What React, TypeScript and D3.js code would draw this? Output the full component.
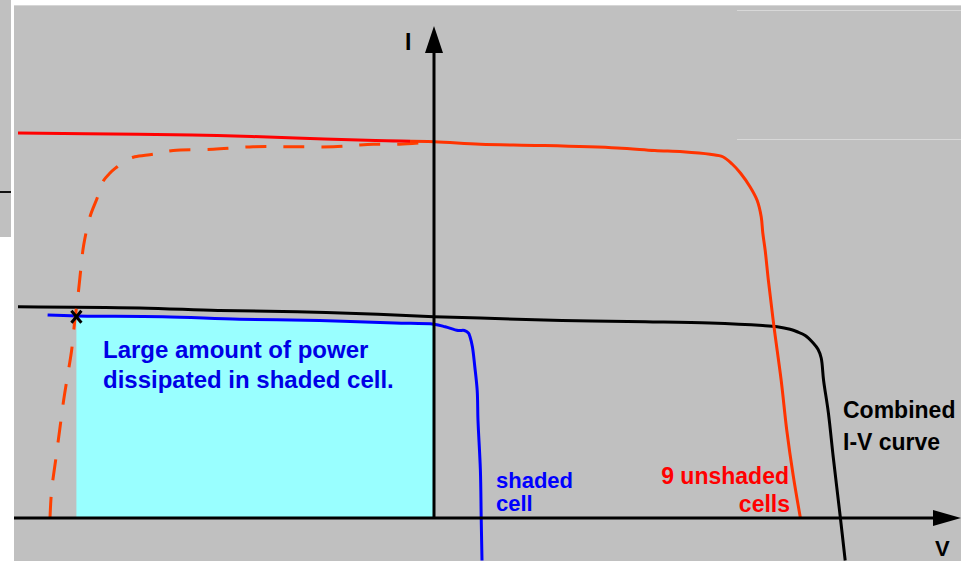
import * as React from 'react';
import * as d3 from 'd3';

// I-V curves of a string of 10 cells with one shaded (volts / amps)
const unshadedV = [-5.2, -3.7, -2.71, -1.73, -0.73, 0, 0.58, 1.33, 2.29, 2.76, 3.11, 3.45, 3.61, 3.73, 3.83, 3.95, 4.04, 4.09, 4.11, 4.14, 4.18, 4.25, 4.34, 4.41, 4.49, 4.58];
const unshadedI = [3.08, 3.07, 3.06, 3.04, 3.02, 3.01, 2.99, 2.98, 2.96, 2.94, 2.93, 2.91, 2.89, 2.83, 2.76, 2.65, 2.54, 2.41, 2.28, 2.14, 1.9, 1.53, 1.1, 0.7, 0.34, 0];

// unshaded curve mirrored (the voltage the shaded cell is forced to)
const mirroredV = [-4.8, -4.78, -4.73, -4.68, -4.63, -4.58, -4.53, -4.49, -4.45, -4.41, -4.38, -4.3, -4.21, -4.14, -4.05, -3.96, -3.86, -3.74, -3.51, -3.26, -2.76, -2.26, -1.76, -1.26, -1.01, -0.76, -0.43, 0];
const mirroredI = [0, 0.22, 0.46, 0.7, 0.94, 1.14, 1.34, 1.58, 1.78, 2.02, 2.18, 2.41, 2.56, 2.69, 2.76, 2.81, 2.86, 2.89, 2.91, 2.94, 2.95, 2.97, 2.97, 2.97, 2.98, 2.99, 2.99, 3.01];

const shadedV = [-4.83, -4.46, -3.39, -2.43, -1.43, -0.49, 0, 0.14, 0.3, 0.38, 0.43, 0.45, 0.48, 0.51, 0.54, 0.55, 0.58, 0.59, 0.6];
const shadedI = [1.624, 1.616, 1.61, 1.59, 1.58, 1.56, 1.55, 1.53, 1.5, 1.5, 1.48, 1.45, 1.37, 1.21, 1.02, 0.78, 0.38, 0, -0.34];

const combinedV = [-5.2, -3.68, -2.7, -1.71, -0.7, 0, 0.58, 1.6, 2.64, 3.45, 4.11, 4.29, 4.45, 4.54, 4.64, 4.74, 4.8, 4.84, 4.87, 4.93, 4.99, 5.08, 5.14];
const combinedI = [1.69, 1.68, 1.66, 1.65, 1.63, 1.61, 1.6, 1.58, 1.57, 1.56, 1.54, 1.53, 1.51, 1.49, 1.46, 1.4, 1.35, 1.28, 1.1, 0.84, 0.49, 0, -0.34];

const operatingPoint = { v: -4.47, i: 1.61 };

const W = 961;
const H = 561;
const FONT = '"Liberation Sans", Arial, sans-serif';

type Pt = { v: number; i: number };
const zip = (vs: number[], is: number[]): Pt[] => vs.map((v, k) => ({ v, i: is[k] }));

export default function App() {
  const x = d3.scaleLinear().domain([-5.25, 6.5875]).range([14, W]);
  const y = d3.scaleLinear().domain([0, 4.104]).range([518, 5]);

  const line = d3.line<Pt>().x(d => x(d.v)).y(d => y(d.i)).curve(d3.curveCatmullRom.alpha(0.5));

  const unshaded = zip(unshadedV, unshadedI);
  const mirrored = zip(mirroredV, mirroredI);
  const shaded = zip(shadedV, shadedI);
  const combined = zip(combinedV, combinedI);

  // power dissipated in the shaded cell: area under shaded curve, op point -> 0 V
  const interpI = d3.scaleLinear().domain(shadedV).range(shadedI);
  const dissip: Pt[] = [
    { v: operatingPoint.v, i: interpI(operatingPoint.v) },
    ...shaded.filter(d => d.v > operatingPoint.v && d.v < 0),
    { v: 0, i: interpI(0) },
  ];
  const area = d3.area<Pt>().x(d => x(d.v)).y0(y(0)).y1(d => y(d.i));

  const x0 = x(0);
  const y0 = y(0);
  const ox = x(operatingPoint.v);
  const oy = y(operatingPoint.i);

  return (
    <div style={{ position: 'fixed', left: 0, top: 0 }}>
      <svg width={W} height={H} style={{ display: 'block' }}>
        <defs>
          <linearGradient id="redSplit" gradientUnits="userSpaceOnUse" x1={0} y1={0} x2={W} y2={0}>
            <stop offset={410 / W} stopColor="#ff0000" />
            <stop offset={410 / W} stopColor="#ff3300" />
          </linearGradient>
        </defs>
        <rect width={W} height={H} fill="#ffffff" />
        <rect x={0} y={0} width={11} height={237} fill="#c0c0c0" />
        <line x1={0} x2={11} y1={192} y2={192} stroke="#111" strokeWidth={2} />
        <rect x={14} y={5} width={W - 14} height={H - 5} fill="#c0c0c0" />
        <line x1={14} x2={W} y1={5.5} y2={5.5} stroke="#d6d6d6" strokeWidth={1} />
        <line x1={737} x2={W} y1={10.5} y2={10.5} stroke="#d8d8d8" strokeWidth={1} />
        <line x1={737} x2={W} y1={139.5} y2={139.5} stroke="#d8d8d8" strokeWidth={1} />

        <path d={area(dissip) ?? ''} fill="#99ffff" />

        <path d={line(combined) ?? ''} fill="none" stroke="#000" strokeWidth={3} />
        <path d={line(shaded) ?? ''} fill="none" stroke="#0000ff" strokeWidth={3} />
        <path d={line(mirrored) ?? ''} fill="none" stroke="#ff4000" strokeWidth={3} strokeDasharray="21 17" />
        <path d={line(unshaded) ?? ''} fill="none" stroke="url(#redSplit)" strokeWidth={3} />

        {/* axes */}
        <line x1={14} x2={935} y1={y0} y2={y0} stroke="#000" strokeWidth={3} />
        <path d={`M${933},${y0 - 8} L${W},${y0} L${933},${y0 + 8} Z`} fill="#000" />
        <line x1={x0} x2={x0} y1={48} y2={y0} stroke="#000" strokeWidth={3} />
        <path d={`M${x0 - 9},${53} L${x0},${26} L${x0 + 9},${53} Z`} fill="#000" />
        <text x={405} y={50} fontFamily={FONT} fontWeight="bold" fontSize={23}>I</text>
        <text x={935} y={556} fontFamily={FONT} fontWeight="bold" fontSize={22}>V</text>

        {/* operating point */}
        <g stroke="#000" strokeWidth={3}>
          <line x1={ox - 5} x2={ox + 5} y1={oy - 6} y2={oy + 6} />
          <line x1={ox + 5} x2={ox - 5} y1={oy - 6} y2={oy + 6} />
        </g>

        <g fontFamily={FONT} fontWeight="bold" fontSize={23}>
          <text x={103} y={358} fill="#0000e6" fontSize={24}>Large amount of power</text>
          <text x={103} y={388} fill="#0000e6" fontSize={24}>dissipated in shaded cell.</text>
          <text x={496} y={488} fill="#0000ff" fontSize={22}>shaded</text>
          <text x={496} y={511} fill="#0000ff" fontSize={22}>cell</text>
          <text x={789} y={484} fill="#ff0000" textAnchor="end">9 unshaded</text>
          <text x={790} y={512} fill="#ff0000" textAnchor="end">cells</text>
          <text x={843} y={418} fill="#000">Combined</text>
          <text x={843} y={450} fill="#000">I-V curve</text>
        </g>
      </svg>
    </div>
  );
}
